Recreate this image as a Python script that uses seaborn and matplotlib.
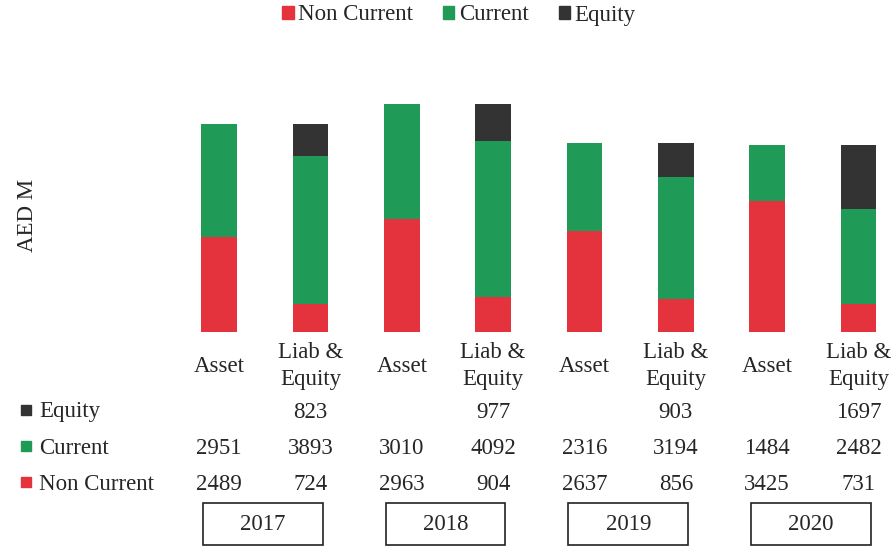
import matplotlib
matplotlib.use("Agg")
import matplotlib.pyplot as plt
import matplotlib.transforms as mtransforms
from matplotlib.patches import Patch, Rectangle
import numpy as np
import pandas as pd
import seaborn as sns

# Data
years = ["2017", "2018", "2019", "2020"]
bar_labels = ["Asset", "Liab &\nEquity"] * 4
non_current = [2489, 724, 2963, 904, 2637, 856, 3425, 731]
current = [2951, 3893, 3010, 4092, 2316, 3194, 1484, 2482]
equity = [None, 823, None, 977, None, 903, None, 1697]

RED = "#e4333d"
GREEN = "#1f9a57"
DARK = "#333333"

sns.set_style("white")
plt.rcParams["font.family"] = ["Liberation Serif", "DejaVu Serif"]
FS = 16.5

df = pd.DataFrame({
    "bar": [f"{years[i // 2]} {b}" for i, b in enumerate(bar_labels)],
    "non_current": non_current,
    "current": current,
    "equity": [e if e is not None else 0 for e in equity],
})
df["lvl1"] = df["non_current"]
df["lvl2"] = df["lvl1"] + df["current"]
df["lvl3"] = df["lvl2"] + df["equity"]

fig = plt.figure(figsize=(8.95, 5.49), dpi=100)
W, H = 895, 549
ax = fig.add_axes([173.5 / W, 217 / H, 721.5 / W, 240 / H])

# stacked bars: draw the cumulative totals from the top layer down
for col, c in [("lvl3", DARK), ("lvl2", GREEN), ("lvl1", RED)]:
    sns.barplot(data=df, x="bar", y=col, color=c, saturation=1, width=0.39,
                linewidth=0, ax=ax)

ax.set_xlim(-0.5, 7.4)
ax.set_ylim(0, 6288)
ax.axis("off")

fig.text(28 / W, 1 - 215 / H, "AED M", rotation=90, ha="center", va="center", fontsize=FS)

# table below the bars
trans = mtransforms.blended_transform_factory(ax.transData, fig.transFigure)
for i, lab in enumerate(bar_labels):
    fig.text(i, 1 - 366 / H, lab, transform=trans, ha="center", va="center",
             fontsize=FS, linespacing=1.4)

rows = [("Equity", equity, DARK, 412), ("Current", current, GREEN, 448),
        ("Non Current", non_current, RED, 484)]
for name, vals, c, ypx in rows:
    fig.patches.append(Rectangle((21 / W, 1 - (ypx + 3) / H), 10 / W, 10 / H,
                                 transform=fig.transFigure, color=c, figure=fig))
    fig.text(39 / W, 1 - ypx / H, name, ha="left", va="center", fontsize=FS)
    for i, v in enumerate(vals):
        if v is not None:
            fig.text(i, 1 - ypx / H, str(v), transform=trans, ha="center",
                     va="center", fontsize=FS)

# year boxes
for k, y in enumerate(years):
    cx = 2 * k + 0.5 - 0.02
    fig.patches.append(Rectangle((cx - 0.655, 1 - 545 / H), 1.31, 42 / H,
                                 transform=trans, fill=False, edgecolor="#222222",
                                 linewidth=1.2, figure=fig))
    fig.text(cx, 1 - 525 / H, y, transform=trans, ha="center", va="center", fontsize=FS)

handles = [Patch(color=RED, label="Non Current"), Patch(color=GREEN, label="Current"),
           Patch(color=DARK, label="Equity")]
fig.legend(handles=handles, loc="center", bbox_to_anchor=(459 / W, 1 - 15 / H), ncol=3,
           frameon=False, fontsize=FS, handlelength=0.5, handleheight=0.5,
           handletextpad=0.2, columnspacing=1.3)

fig.savefig("out.png", dpi=100)
